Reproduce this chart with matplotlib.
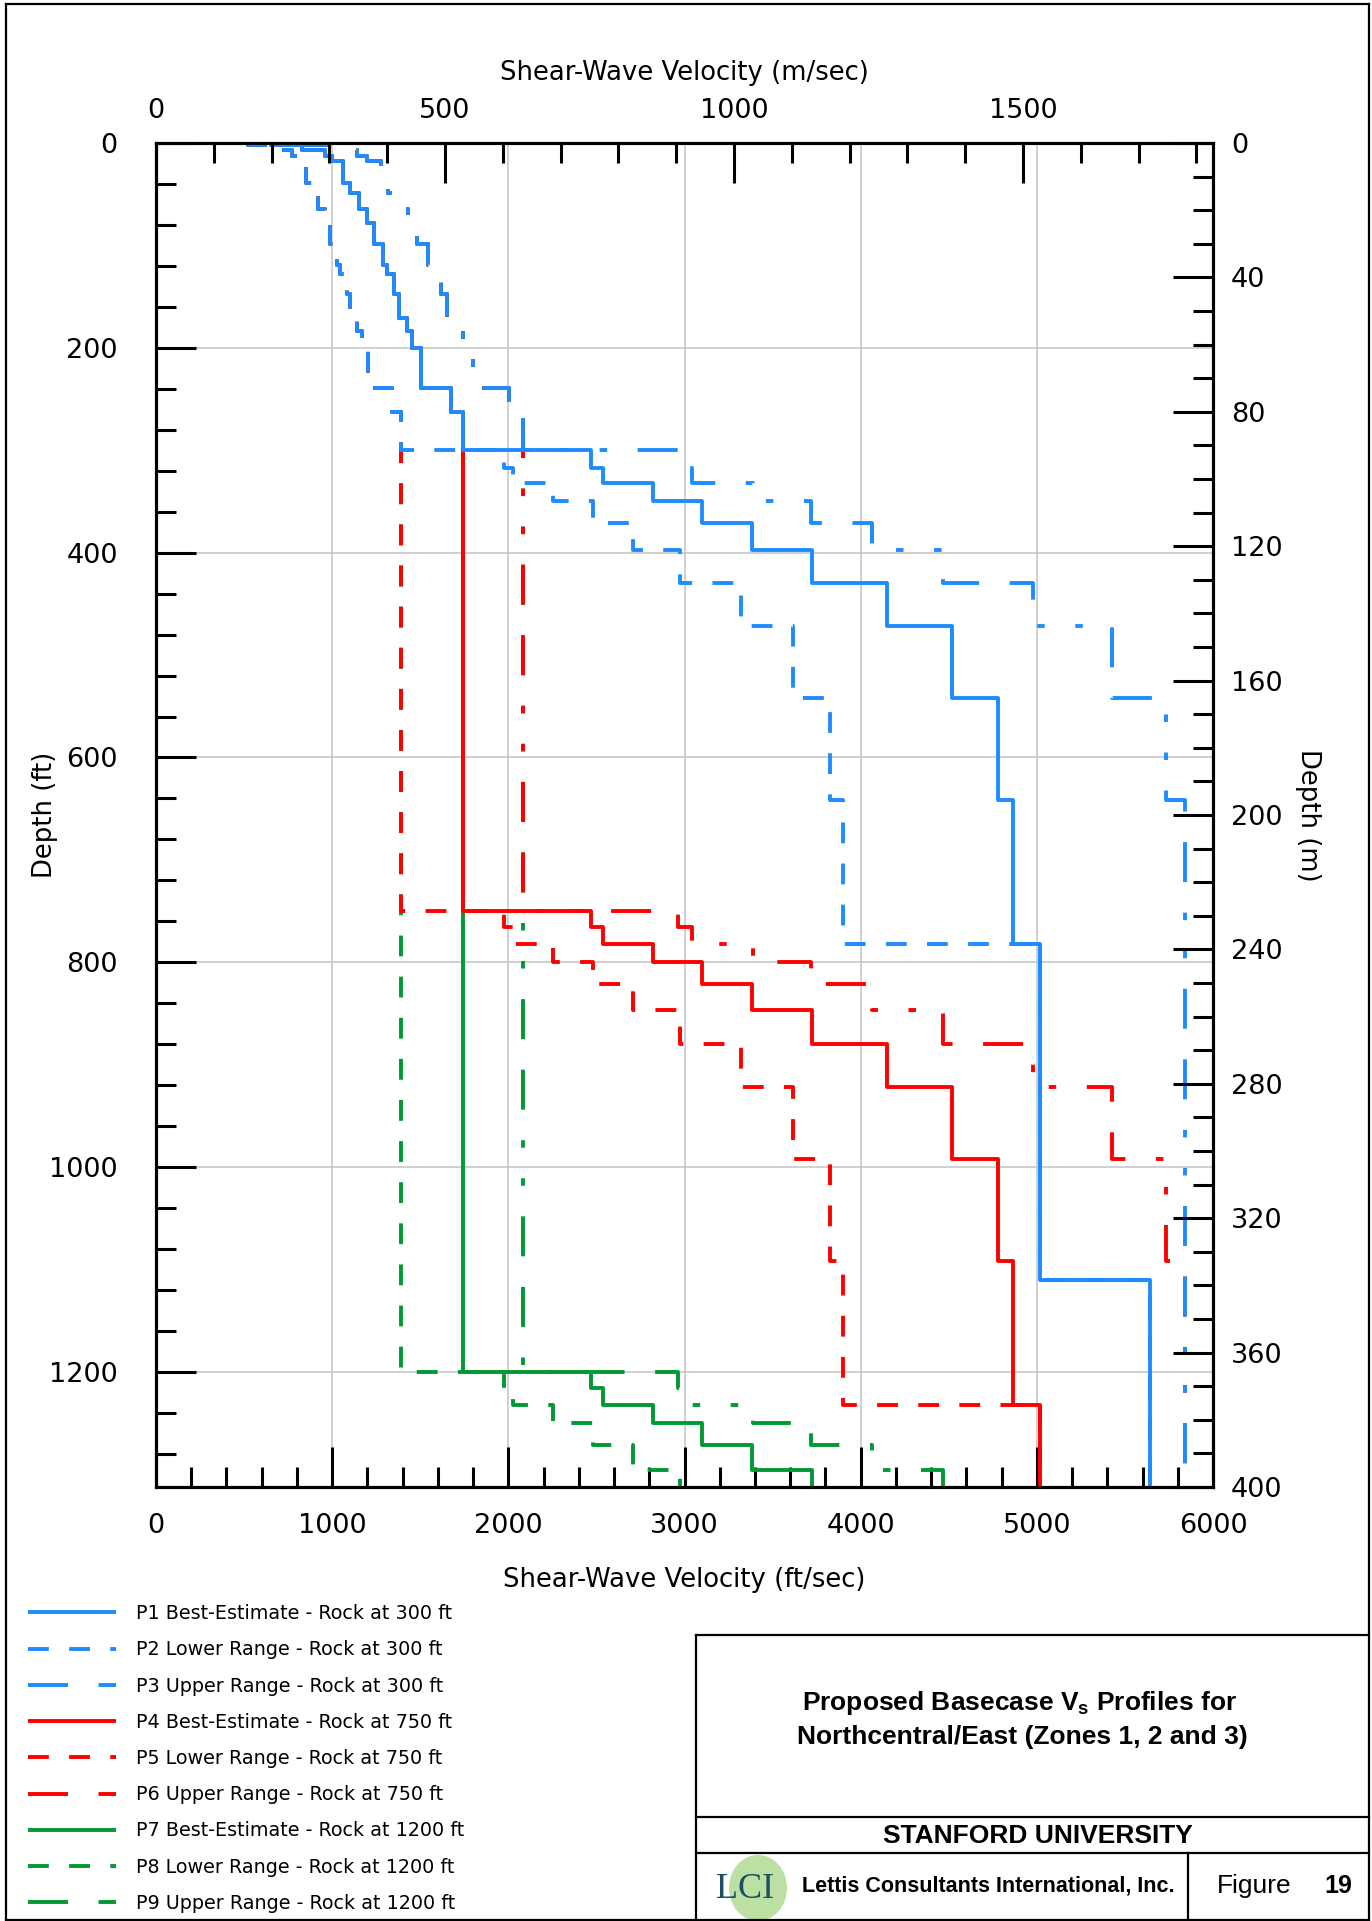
import matplotlib
matplotlib.use('Agg')
import numpy as np
import matplotlib.pyplot as plt
from matplotlib.ticker import MultipleLocator
from matplotlib.patches import Ellipse
from matplotlib.lines import Line2D

plt.rcParams['font.family'] = 'DejaVu Sans'
plt.rcParams['lines.scale_dashes'] = False

# ---- values (depth in ft, Vs in ft/sec) ----
BOTTOM_FT = 400 / 0.3048          # plot runs to 400 m

soil_depth = [0, 2, 7, 13, 18, 39, 48.5, 64, 78, 99, 119, 128, 147, 171, 184, 200, 239, 263]
soil_best = [650, 830, 960, 1000, 1063, 1101, 1154, 1196, 1237, 1290, 1309, 1351, 1377, 1426, 1453, 1502, 1672, 1741]
soil_lower = [520, 664, 770, 808, 850, 884, 922, 959, 990, 1030, 1045, 1082, 1100, 1139, 1168, 1202, 1338, 1389]
soil_upper = [780, 996, 1143, 1196, 1276, 1319, 1385, 1432, 1482, 1546, 1572, 1620, 1652, 1711, 1744, 1801, 2005, 2085]

rock300_depth = [300, 317, 332, 350, 371, 397, 430, 472, 542, 642, 782, 1110]
rock300_best = [2467, 2535, 2823, 3097, 3381, 3722, 4148, 4520, 4777, 4866, 5018, 5642]
rock300_lower = [1974, 2028, 2255, 2478, 2706, 2974, 3319, 3618, 3826, 3898, 5018, 5642]
rock300_up_depth = [300, 317, 332, 350, 371, 397, 430, 472, 542, 642]
rock300_upper = [2965, 3040, 3388, 3718, 4062, 4465, 4980, 5424, 5733, 5841]

rock750_depth = [750, 766, 782, 800, 821, 847, 880, 922, 992, 1092, 1232]
rock750_best = [2467, 2535, 2823, 3097, 3381, 3722, 4148, 4520, 4777, 4866, 5018]
rock750_lower = [1974, 2028, 2255, 2478, 2706, 2974, 3319, 3618, 3826, 3898, 5018]
rock750_up_depth = [750, 766, 782, 800, 821, 847, 880, 922, 992, 1092]
rock750_upper = [2965, 3040, 3388, 3718, 4062, 4465, 4980, 5424, 5733, 5841]

rock1200_depth = [1200, 1216, 1232, 1250, 1271, 1296]
rock1200_best = [2467, 2535, 2823, 3097, 3381, 3722]
rock1200_lower = [1974, 2028, 2255, 2478, 2706, 2974]
rock1200_upper = [2965, 3040, 3388, 3718, 4062, 4465]

labels = ['P1 Best-Estimate - Rock at 300 ft', 'P2 Lower Range - Rock at 300 ft',
          'P3 Upper Range - Rock at 300 ft', 'P4 Best-Estimate - Rock at 750 ft',
          'P5 Lower Range - Rock at 750 ft', 'P6 Upper Range - Rock at 750 ft',
          'P7 Best-Estimate - Rock at 1200 ft', 'P8 Lower Range - Rock at 1200 ft',
          'P9 Upper Range - Rock at 1200 ft']

BLUE, RED, GREEN = '#1E8CFF', '#FF0000', '#009933'
SOLID = None
LOWER = (15.0, 14.6)
UPPER = (28.8, 22.0, 28.8, 22.0, 5.4, 22.0, 5.4, 22.0)

profiles = [
    (soil_depth + rock300_depth, soil_best + rock300_best, BLUE, SOLID),
    (soil_depth + rock300_depth, soil_lower + rock300_lower, BLUE, LOWER),
    (soil_depth + rock300_up_depth, soil_upper + rock300_upper, BLUE, UPPER),
    (soil_depth + rock750_depth, soil_best + rock750_best, RED, SOLID),
    (soil_depth + rock750_depth, soil_lower + rock750_lower, RED, LOWER),
    (soil_depth + rock750_up_depth, soil_upper + rock750_upper, RED, UPPER),
    (soil_depth + rock1200_depth, soil_best + rock1200_best, GREEN, SOLID),
    (soil_depth + rock1200_depth, soil_lower + rock1200_lower, GREEN, LOWER),
    (soil_depth + rock1200_depth, soil_upper + rock1200_upper, GREEN, UPPER),
]

W, H = 1372, 1921
fig = plt.figure(figsize=(W / 100, H / 100), dpi=100)


def fx(x):
    return x / W


def fy(y):
    return 1 - y / H


ax = fig.add_axes([fx(156), fy(1487), (1213 - 156) / W, (1487 - 143) / H])
ax.set_xlim(0, 6000)
ax.set_ylim(BOTTOM_FT, 0)

handles = []
n = len(profiles)
for i, (d, v, col, dash) in enumerate(profiles):
    d = np.array(d + [BOTTOM_FT])
    v = np.array(v + [v[-1]])
    line, = ax.plot(v, d, drawstyle='steps-pre', color=col, lw=2.8,
                    solid_capstyle='butt', dash_capstyle='butt', zorder=10 + n - i)
    if dash is not None:
        line.set_dashes(dash)
    handles.append(line)

ax.xaxis.set_major_locator(MultipleLocator(1000))
ax.xaxis.set_minor_locator(MultipleLocator(200))
ax.yaxis.set_major_locator(MultipleLocator(200))
ax.yaxis.set_minor_locator(MultipleLocator(40))
ax.grid(which='major', color='#c4c4c4', lw=1.1)
ax.set_axisbelow(True)

tick_kw = dict(direction='in', width=2.2, labelsize=19.5)
ax.tick_params(which='major', length=28.8, **tick_kw)
ax.tick_params(which='minor', length=14.4, **tick_kw)
ax.tick_params(axis='x', which='both', top=False, pad=19)
ax.tick_params(axis='y', which='both', right=False, pad=27.5)

ax_top = ax.twiny()
ax_top.set_xlim(0, 6000 * 0.3048)
ax_top.xaxis.set_major_locator(MultipleLocator(500))
ax_top.xaxis.set_minor_locator(MultipleLocator(100))
ax_top.tick_params(which='major', length=28.8, **tick_kw)
ax_top.tick_params(which='minor', length=14.4, **tick_kw)
ax_top.tick_params(axis='x', which='both', pad=13.7)

ax_r = ax.twinx()
ax_r.set_ylim(400, 0)
ax_r.yaxis.set_major_locator(MultipleLocator(40))
ax_r.yaxis.set_minor_locator(MultipleLocator(10))
ax_r.tick_params(which='major', length=28.8, **tick_kw)
ax_r.tick_params(which='minor', length=14.4, **tick_kw)
ax_r.tick_params(axis='y', which='both', pad=13)

for a in (ax, ax_top, ax_r):
    for s in a.spines.values():
        s.set_linewidth(2.2)

lab_kw = dict(fontsize=18.6)
ax.set_xlabel('Shear-Wave Velocity (ft/sec)', **lab_kw)
ax.xaxis.set_label_coords(0.5, (1487 - 1580) / 1344)
ax.xaxis.label.set_va('center')
ax_top.set_xlabel('Shear-Wave Velocity (m/sec)', **lab_kw)
ax_top.xaxis.set_label_coords(0.5, (1487 - 73) / 1344)
ax_top.xaxis.label.set_va('center')
ax.set_ylabel('Depth (ft)', **lab_kw)
ax.yaxis.set_label_coords((45 - 156) / 1057, 0.5)
ax.yaxis.label.set_va('center')
ax_r.set_ylabel('Depth (m)', rotation=270, **lab_kw)
ax_r.yaxis.set_label_coords((1308 - 156) / 1057, 0.5)
ax_r.yaxis.label.set_va('center')

fig.legend(handles, labels, loc='upper left', bbox_to_anchor=(fx(28), fy(1604)),
           frameon=False, fontsize=13.8, handlelength=4.6, handletextpad=1.05,
           labelspacing=0.9, borderpad=0, borderaxespad=0)

# page border and title block
frame_kw = dict(color='black', lw=1.6, transform=fig.transFigure)
fig.add_artist(Line2D([fx(6), fx(6)], [fy(4), fy(1921)], **frame_kw))
fig.add_artist(Line2D([fx(6), fx(1369)], [fy(4), fy(4)], **frame_kw))
fig.add_artist(Line2D([fx(1369), fx(1369)], [fy(4), fy(1921)], **frame_kw))
fig.add_artist(Line2D([fx(6), fx(1369)], [fy(1920), fy(1920)], **frame_kw))
fig.add_artist(Line2D([fx(696), fx(696)], [fy(1635), fy(1921)], **frame_kw))
fig.add_artist(Line2D([fx(696), fx(1369)], [fy(1635), fy(1635)], **frame_kw))
fig.add_artist(Line2D([fx(696), fx(1369)], [fy(1817), fy(1817)], **frame_kw))
fig.add_artist(Line2D([fx(696), fx(1369)], [fy(1853), fy(1853)], **frame_kw))
fig.add_artist(Line2D([fx(1188), fx(1188)], [fy(1853), fy(1921)], **frame_kw))

tb = dict(family=['Liberation Sans', 'DejaVu Sans'], ha='center', va='center')
fig.text(fx(1019), fy(1703), r'Proposed Basecase V$_\mathregular{s}$ Profiles for',
         fontsize=19, fontweight='bold', **tb)
fig.text(fx(1022), fy(1737), 'Northcentral/East (Zones 1, 2 and 3)',
         fontsize=19, fontweight='bold', **tb)
fig.text(fx(1038), fy(1836), 'STANFORD UNIVERSITY', fontsize=19, fontweight='bold', **tb)
fig.text(fx(988), fy(1886), 'Lettis Consultants International, Inc.',
         fontsize=15.5, fontweight='bold', **tb)
fig.text(fx(1254), fy(1886), 'Figure', fontsize=19, **tb)
fig.text(fx(1338), fy(1886), '19', fontsize=18, fontweight='bold', **tb)

fig.add_artist(Ellipse((fx(758), fy(1888)), 58 / W, 66 / H, transform=fig.transFigure,
                       facecolor='#b5dc98', edgecolor='none', alpha=0.9))
fig.text(fx(745), fy(1890), 'LCI', fontsize=26, color='#1b4f63',
         family=['Liberation Serif', 'DejaVu Serif'], ha='center', va='center')

fig.savefig('out.png', dpi=100)
